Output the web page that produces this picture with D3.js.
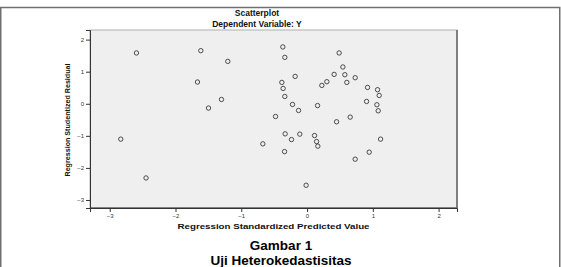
<!DOCTYPE html>
<html>
<head>
<meta charset="utf-8">
<script src="https://cdn.jsdelivr.net/npm/d3@7"></script>
<style>
  html, body { margin: 0; padding: 0; background: #fff; }
  svg { display: block; font-family: "Liberation Sans", Arial, sans-serif; }
</style>
</head>
<body>
<div id="chart"></div>
<script>
// Residual scatter (SPSS-style).
const predicted = [
    -2.594, -2.832, -2.448, -1.615, -1.666, -1.205, -1.498, -1.301,
    -0.368, -0.338, -0.181, -0.383, -0.364, -0.338, 0.225, 0.301,
    -0.221, -0.129, 0.160, -0.479, 0.488, 0.545, 0.412, 0.575,
    0.732, 0.605, 0.920, 1.072, 1.097, 0.905, 1.062, 1.082,
    0.656, -0.333, -0.110, -0.236, -0.672, -0.342, 0.114, 0.145,
    0.164, -0.014, 0.449, 1.118, 0.945, 0.732
];
const residual = [
    1.584, -1.103, -2.313, 1.656, 0.678, 1.322, -0.134, 0.134,
    1.772, 1.447, 0.853, 0.666, 0.478, 0.228, 0.572, 0.688,
    -0.022, -0.209, -0.056, -0.397, 1.584, 1.147, 0.916, 0.906,
    0.812, 0.666, 0.509, 0.438, 0.259, 0.072, -0.031, -0.219,
    -0.416, -0.938, -0.947, -1.116, -1.250, -1.491, -0.991, -1.178,
    -1.322, -2.541, -0.562, -1.103, -1.509, -1.728
];
const xTicks = [-3, -2, -1, 0, 1, 2];
const yTicks = [2, 1, 0, -1, -2, -3];
const chartTitle = 'Scatterplot';
const chartSubtitle = 'Dependent Variable: Y';
const xTitle = 'Regression Standardized Predicted Value';
const yTitle = 'Regression Studentized Residual';
const captionLines = ['Gambar 1', 'Uji Heterokedastisitas'];

const width = 561, height = 267;
const plot = { left: 90, top: 30, right: 457, bottom: 208 };

const svg = d3.select('#chart').append('svg')
    .attr('width', width)
    .attr('height', height);

// outer frame (no bottom edge in view)
svg.append('path')
    .attr('d', `M0.75,${height}V7.5H559.75V${height}`)
    .attr('fill', 'none')
    .attr('stroke', '#707070')
    .attr('stroke-width', 1.5);

const x = d3.scaleLinear().domain([-3.3, 2.28]).range([plot.left, plot.right]);
const y = d3.scaleLinear().domain([-3.25, 2.3]).range([plot.bottom, plot.top]);

// plot background
svg.append('rect')
    .attr('x', plot.left)
    .attr('y', plot.top)
    .attr('width', plot.right - plot.left)
    .attr('height', plot.bottom - plot.top)
    .attr('fill', '#efefef')
    .attr('stroke', '#b0b0b0')
    .attr('stroke-width', 1);

// shadowed right/bottom edges
svg.append('path')
    .attr('d', `M${plot.right},${plot.top}V${plot.bottom}H${plot.left}`)
    .attr('fill', 'none')
    .attr('stroke', '#6a6a6a')
    .attr('stroke-width', 1.6);

const xAxis = svg.append('g')
    .attr('transform', `translate(0,${plot.bottom})`)
    .call(d3.axisBottom(x).tickValues(xTicks).tickSize(4).tickPadding(2).tickFormat(d3.format('d')));

const yAxis = svg.append('g')
    .attr('transform', `translate(${plot.left},0)`)
    .call(d3.axisLeft(y).tickValues(yTicks).tickSize(4).tickPadding(2).tickFormat(d3.format('d')));

[xAxis, yAxis].forEach((ax) => {
    ax.select('.domain').attr('stroke', '#333').attr('stroke-width', 1);
    ax.selectAll('.tick line').attr('stroke', '#333');
    ax.selectAll('.tick text')
        .attr('fill', '#333')
        .attr('font-size', '6px')
        .attr('font-family', '"Liberation Sans", Arial, sans-serif');
});

// points
svg.append('g')
    .selectAll('circle')
    .data(predicted.map((p, i) => [p, residual[i]]))
    .join('circle')
    .attr('cx', (d) => x(d[0]))
    .attr('cy', (d) => y(d[1]))
    .attr('r', 2.2)
    .attr('fill', 'none')
    .attr('stroke', '#3a3a3a')
    .attr('stroke-width', 0.9);

// titles
svg.append('text')
    .attr('x', 257).attr('y', 16)
    .attr('text-anchor', 'middle')
    .attr('font-size', '8.5px').attr('font-weight', 'bold')
    .attr('fill', '#111')
    .text(chartTitle);

svg.append('text')
    .attr('x', 257).attr('y', 27)
    .attr('text-anchor', 'middle')
    .attr('font-size', '8.5px').attr('font-weight', 'bold')
    .attr('fill', '#111')
    .text(chartSubtitle);

svg.append('text')
    .attr('x', (plot.left + plot.right) / 2).attr('y', 229)
    .attr('text-anchor', 'middle')
    .attr('font-size', '8px').attr('font-weight', 'bold')
    .attr('fill', '#111')
    .attr('textLength', 192).attr('lengthAdjust', 'spacingAndGlyphs')
    .text(xTitle);

svg.append('text')
    .attr('transform', 'translate(70,120) rotate(-90)')
    .attr('text-anchor', 'middle')
    .attr('font-size', '7px').attr('font-weight', 'bold')
    .attr('fill', '#111')
    .attr('textLength', 113).attr('lengthAdjust', 'spacingAndGlyphs')
    .text(yTitle);

svg.append('g')
    .selectAll('text')
    .data(captionLines)
    .join('text')
    .attr('x', 281)
    .attr('y', (d, i) => 250 + i * 15)
    .attr('text-anchor', 'middle')
    .attr('font-size', '13.5px').attr('font-weight', 'bold')
    .attr('fill', '#000')
    .text((d) => d);
</script>
</body>
</html>
